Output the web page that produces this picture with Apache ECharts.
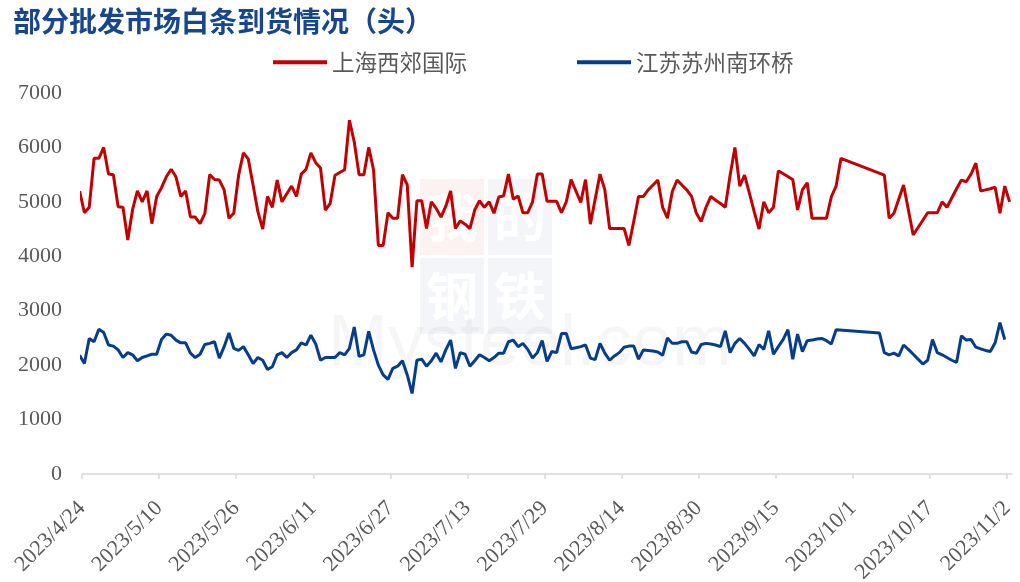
<!DOCTYPE html>
<html><head><meta charset="utf-8">
<script src="https://cdn.jsdelivr.net/npm/echarts@6/dist/echarts.min.js"></script>
<style>html,body{margin:0;padding:0;background:#fff}#c{width:1020px;height:582px}</style>
</head><body><div id="c"></div>
<script>
// first data date (one day before the axis start, clipped by the plot)
const firstDate = '2023-04-23';
const axisStart = '2023-04-24';
const tickLabels = ['2023/4/24','2023/5/10','2023/5/26','2023/6/11','2023/6/27','2023/7/13','2023/7/29','2023/8/14','2023/8/30','2023/9/15','2023/10/1','2023/10/17','2023/11/2'];
const seriesNames = ['上海西郊国际','江苏苏州南环桥'];
// daily values from 2023-04-23 to 2023-11-02 (null = no data that day)
const shanghai = [
5200,4800,4900,5800,5800,6000,5510,5500,4910,4900,
4300,4860,5200,5000,5200,4600,5100,5260,5460,5600,
5460,5100,5200,4720,4720,4600,4790,5500,5410,5400,
5220,4700,4790,5490,5900,5790,5310,4820,4500,5100,
4900,5400,5000,5150,5290,5100,5510,5600,5900,5720,
5620,4850,4970,5490,5540,5590,6500,6100,5500,5500,
6000,5590,4200,4200,4800,4700,4700,5500,5310,3800,
5020,5020,4510,5000,4880,4720,4920,5200,4510,4650,
4590,4510,4850,5020,4900,5000,4790,5090,5110,5510,
5050,5110,4800,4800,5000,5510,5510,5010,5010,5010,
4800,5000,5410,5200,4990,5410,4590,5050,5510,5220,
4510,4510,4510,4510,4200,4640,5100,5100,5220,5310,
5400,4900,4700,5190,5400,5310,5220,5100,4790,4640,
4900,5100,5030,4970,4900,5490,6000,5290,5490,5160,
4820,4500,5000,4800,4900,5570,null,null,5410,4850,
5220,5350,4700,4700,4700,4700,5090,5290,5800,null,
null,null,null,null,null,null,null,5490,4700,4790,
null,5310,null,4390,null,null,4800,4800,4800,5000,
4900,5070,5240,5400,5370,5510,5710,5200,5220,5240,
5270,4790,5290,5000
];
const suzhou = [
2180,2030,2490,2430,2660,2600,2370,2350,2280,2140,
2230,2190,2080,2140,2170,2200,2200,2470,2570,2550,
2460,2410,2410,2220,2140,2200,2380,2400,2430,2130,
2340,2590,2310,2270,2340,2190,2030,2140,2090,1920,
1970,2190,2230,2140,2230,2280,2410,2370,2550,2390,
2090,2140,2140,2140,2230,2190,2310,2700,2160,2190,
2620,2280,2000,1820,1740,1940,1980,2080,1820,1480,
2090,2110,1980,2080,2220,2060,2280,2460,1940,2230,
2200,1980,2080,2190,2140,2080,2140,2220,2220,2430,
2460,2340,2400,2290,2130,2230,2450,2070,2250,2230,
2580,2580,2300,2320,2340,2370,2130,2100,2400,2220,
2090,2170,2230,2330,2350,2350,2110,2280,2270,2260,
2240,2180,2500,2400,2400,2430,2430,2240,2220,2380,
2400,2390,2370,2340,2630,2230,2400,2490,2400,2290,
2170,2380,2290,2630,2200,2340,2470,2650,2110,2570,
2250,2450,2460,2480,2490,2450,2390,2650,null,null,
null,null,null,null,null,null,2590,2230,2190,2220,
2170,2370,2290,2200,2110,2020,2090,2470,2230,2190,
2140,2090,2050,2540,2460,2470,2330,2300,2270,2250,
2410,2780,2470
];

const DAY = 86400000;
const t0 = Date.parse(axisStart);
const tFirst = Date.parse(firstDate);
function toPoints(vals) {
  const pts = [];
  vals.forEach((v, i) => {
    if (v === null) return;
    const day = (tFirst + i * DAY - t0) / DAY; // days since axis start
    pts.push([day + 0.5, v]);                  // centred within its day
  });
  return pts;
}
const tickValues = tickLabels.map((s, i) => i * 16);

const chart = echarts.init(document.getElementById('c'));
const serif = '"Liberation Serif", "Times New Roman", serif';
const cjk = '"Noto Sans CJK SC", sans-serif';
const wmFont = 'bold 52px "Noto Sans CJK SC"';
chart.setOption({
  backgroundColor: '#ffffff',
  animation: false,
  graphic: [
    { type: 'rect', shape: { x: 420, y: 179, width: 64, height: 76 }, style: { fill: '#FDF2F2' }, z: -10, silent: true },
    { type: 'rect', shape: { x: 488, y: 179, width: 64, height: 76 }, style: { fill: '#F4F5F9' }, z: -10, silent: true },
    { type: 'rect', shape: { x: 420, y: 258, width: 64, height: 76 }, style: { fill: '#F4F5F9' }, z: -10, silent: true },
    { type: 'rect', shape: { x: 488, y: 258, width: 64, height: 76 }, style: { fill: '#F4F5F9' }, z: -10, silent: true },
    { type: 'text', x: 452, y: 217, z: -9, silent: true, style: { text: '我', fill: '#FFFFFF', font: wmFont, align: 'center', verticalAlign: 'middle' } },
    { type: 'text', x: 520, y: 217, z: -9, silent: true, style: { text: '的', fill: '#FFFFFF', font: wmFont, align: 'center', verticalAlign: 'middle' } },
    { type: 'text', x: 452, y: 296, z: -9, silent: true, style: { text: '钢', fill: '#FFFFFF', font: wmFont, align: 'center', verticalAlign: 'middle' } },
    { type: 'text', x: 520, y: 296, z: -9, silent: true, style: { text: '铁', fill: '#FFFFFF', font: wmFont, align: 'center', verticalAlign: 'middle' } },
    { type: 'text', x: 530, y: 345, z: -8, silent: true, style: { text: 'Mysteel.com', fill: 'rgba(0,0,0,0.035)', font: '72px "Liberation Sans"', align: 'center', verticalAlign: 'middle' } }
  ],
  title: {
    text: '部分批发市场白条到货情况（头）',
    left: 8, top: 2,
    textStyle: { fontSize: 28, fontWeight: 'bold', color: '#17468A', fontFamily: cjk }
  },
  legend: [
    { data: [seriesNames[0]], left: 273, top: 51, padding: 0, icon: 'rect', itemWidth: 54, itemHeight: 4, itemGap: 0,
      textStyle: { fontSize: 22.5, color: '#595959', fontFamily: cjk } },
    { data: [seriesNames[1]], left: 577, top: 51, padding: 0, icon: 'rect', itemWidth: 54, itemHeight: 4, itemGap: 0,
      textStyle: { fontSize: 22.5, color: '#595959', fontFamily: cjk } }
  ],
  grid: { left: 82, right: 8, top: 93, bottom: 108, containLabel: false, outerBoundsMode: 'none' },
  xAxis: {
    type: 'value', min: 0, max: 193,
    axisLine: { show: true, lineStyle: { color: '#D9D9D9', width: 1.5 } },
    axisTick: { show: true, length: 5, lineStyle: { color: '#D9D9D9', width: 1.5 }, customValues: tickValues },
    axisLabel: {
      customValues: tickValues, rotate: 45, margin: 31,
      fontSize: 22, color: '#595959', fontFamily: serif,
      formatter: v => tickLabels[Math.round(v / 16)]
    },
    splitLine: { show: false }
  },
  yAxis: {
    type: 'value', min: 0, max: 7000, interval: 1000,
    axisLine: { show: false }, axisTick: { show: false },
    axisLabel: { fontSize: 22, color: '#595959', fontFamily: serif, margin: 20, formatter: v => String(v) },
    splitLine: { show: false }
  },
  series: [
    { name: seriesNames[0], type: 'line', data: toPoints(shanghai), showSymbol: false, clip: true, z: 3,
      lineStyle: { color: '#C00000', width: 3 }, itemStyle: { color: '#C00000' } },
    { name: seriesNames[1], type: 'line', data: toPoints(suzhou), showSymbol: false, clip: true, z: 3,
      lineStyle: { color: '#043E8A', width: 3 }, itemStyle: { color: '#043E8A' } }
  ]
});
</script>
</body></html>
